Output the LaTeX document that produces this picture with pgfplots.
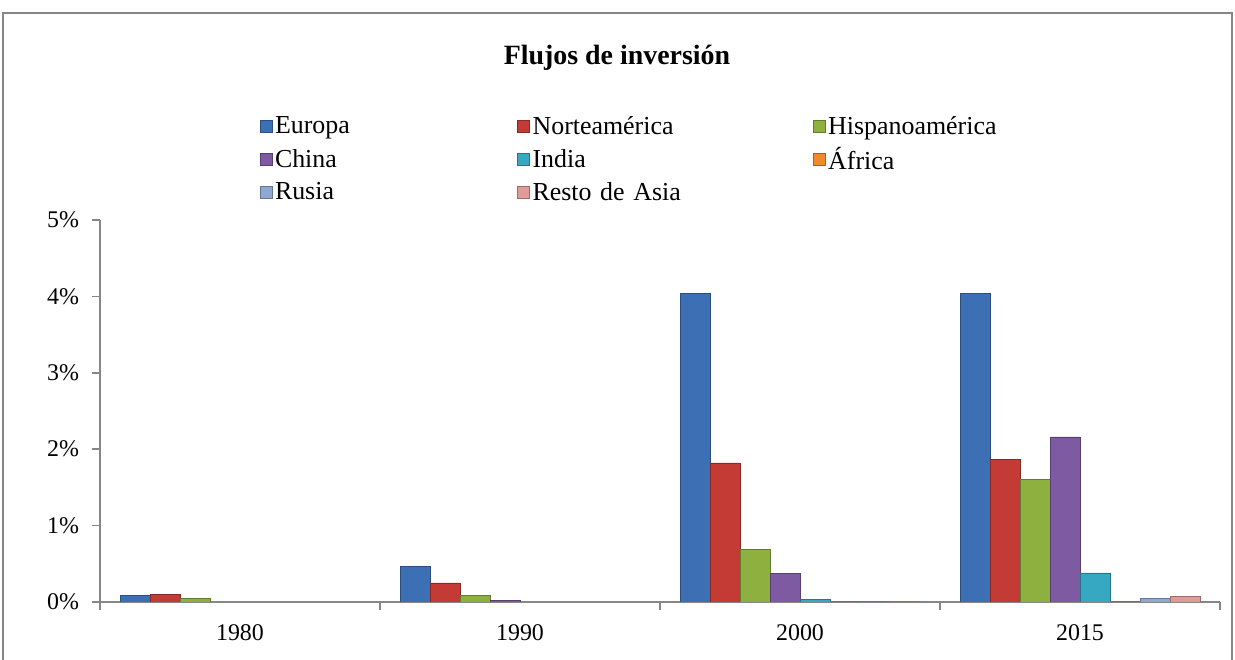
\documentclass[border=0pt]{standalone}
\usepackage{fontspec}
\setmainfont{Liberation Serif}
\usepackage{pgfplots}
\pgfplotsset{compat=1.18}

\definecolor{cEur}{HTML}{3C6FB3}
\definecolor{cNor}{HTML}{C43B36}
\definecolor{cHis}{HTML}{8DB03F}
\definecolor{cChi}{HTML}{7E5AA3}
\definecolor{cInd}{HTML}{36A8C2}
\definecolor{cAfr}{HTML}{F08A2C}
\definecolor{cRus}{HTML}{8FA8D2}
\definecolor{cRes}{HTML}{E09A98}
\definecolor{axgray}{HTML}{868686}

\begin{document}
\begin{tikzpicture}
\useasboundingbox (-50bp,-29bp) rectangle (567.5bp,301bp);
% chart frame (bottom edge is cut off in the reference)
\draw[axgray, line width=0.8bp] (-48.5bp,-29bp) -- (-48.5bp,294.5bp) -- (566bp,294.5bp) -- (566bp,-29bp);
\node[font=\fontsize{14}{16}\selectfont\bfseries] at (258.5bp,272bp) {Flujos de inversión};

\begin{axis}[
    at={(0bp,0bp)}, anchor=south west,
    scale only axis,
    width=560bp, height=191bp,
    xmin=-0.5, xmax=3.5,
    ymin=0, ymax=5,
    ybar=0pt,
    bar width=0.10714,
    xtick={-0.5,0.5,1.5,2.5,3.5},
    xticklabels={},
    extra x ticks={0,1,2,3},
    extra x tick labels={1980,1990,2000,2015},
    extra x tick style={major tick length=0pt, xticklabel style={yshift=-8bp}},
    ytick={0,1,2,3,4,5},
    yticklabel={\pgfmathprintnumber{\tick}\%},
    /pgf/number format/assume math mode=true,
    axis x line*=bottom,
    axis y line*=left,
    axis line style={axgray, line width=0.8bp, -},
    major tick style={axgray, line width=0.8bp},
    xtick align=outside, ytick align=outside,
    major tick length=4bp,
    tick label style={font=\fontsize{12}{14}\selectfont},
    yticklabel style={xshift=-3bp},
    legend columns=3,
    legend cell align=left,
    legend image code/.code={\draw[#1, draw=#1] (0bp,-3bp) rectangle (6bp,3bp);},
    legend style={
        at={(0.137,1.29)}, anchor=north west,
        draw=none, fill=none,
        font=\fontsize{13}{15}\selectfont,
        row sep=2.6bp,
        nodes={inner xsep=1.2bp, inner ysep=1.2bp, align=left},
        /tikz/column 2/.style={text width=120bp},
        /tikz/column 4/.style={text width=139bp},
    },
]
\addplot[fill=cEur, draw=cEur!70!black] coordinates {(0,0.08) (1,0.46) (2,4.04) (3,4.04)};
\addplot[fill=cNor, draw=cNor!70!black] coordinates {(0,0.10) (1,0.25) (2,1.82) (3,1.87)};
\addplot[fill=cHis, draw=cHis!70!black] coordinates {(0,0.05) (1,0.08) (2,0.69) (3,1.60)};
\addplot[fill=cChi, draw=cChi!70!black] coordinates {(1,0.02) (2,0.37) (3,2.16)};
\addplot[fill=cInd, draw=cInd!70!black] coordinates {(2,0.03) (3,0.38)};
\addplot[fill=cAfr, draw=cAfr!70!black] coordinates {(2,0.004) (3,0.005)};
\addplot[fill=cRus, draw=cRus!70!black] coordinates {(2,0.01) (3,0.05)};
\addplot[fill=cRes, draw=cRes!70!black] coordinates {(2,0.01) (3,0.07)};
\legend{Europa, Norteamérica, Hispanoamérica, China, India, África, Rusia, Resto de Asia}
\end{axis}
\end{tikzpicture}
\end{document}
